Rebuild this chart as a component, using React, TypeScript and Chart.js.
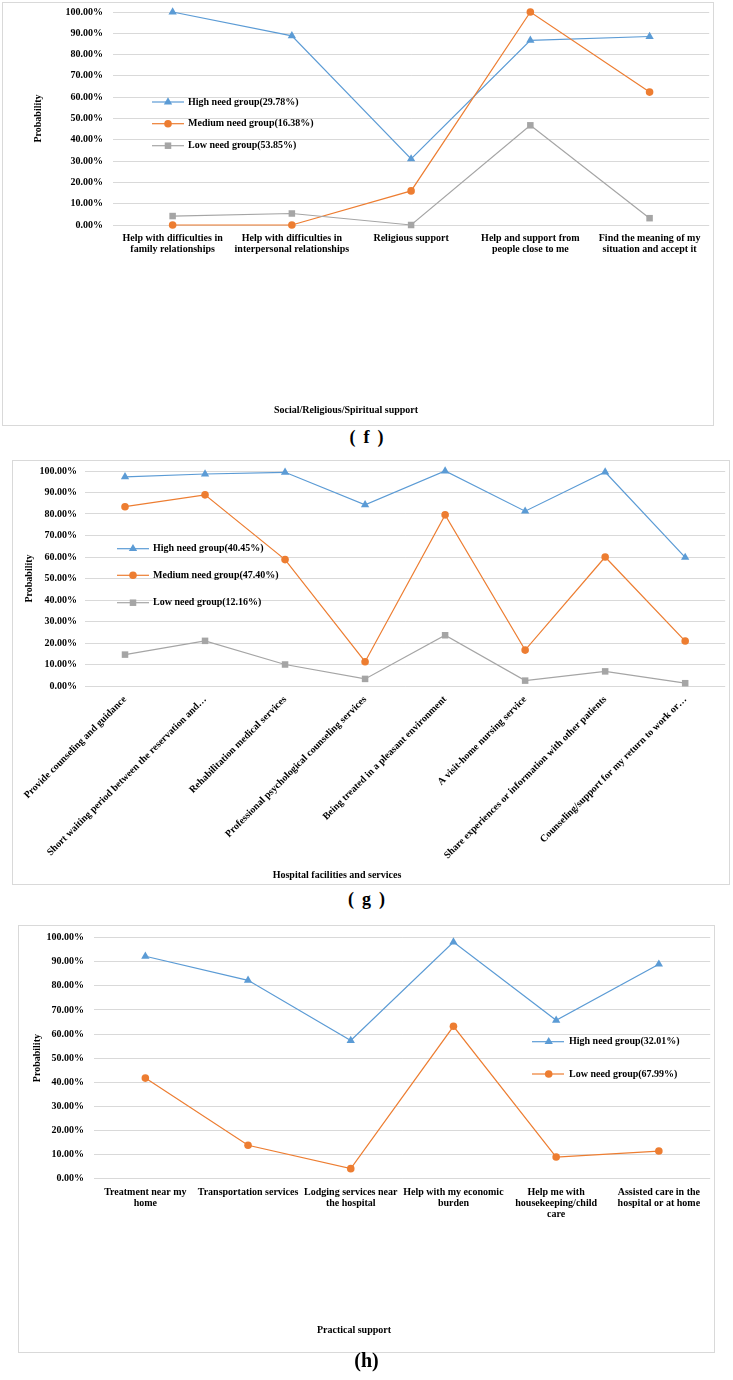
import React, { useEffect, useRef } from 'react';
import { Chart, registerables } from 'chart.js';

Chart.register(...registerables);

// ---------- DATA ----------
// (f) Social/Religious/Spiritual support
const fCategories: string[][] = [
  ['Help with difficulties in', 'family relationships'],
  ['Help with difficulties in', 'interpersonal relationships'],
  ['Religious support'],
  ['Help and support from', 'people close to me'],
  ['Find the meaning of my', 'situation and accept it'],
];
const fHigh = [100, 88.8, 31.0, 86.7, 88.5];
const fMedium = [0, 0, 16.0, 100, 62.4];
const fLow = [4.2, 5.4, 0, 46.8, 3.2];
const fLegend = ['High need group(29.78%)', 'Medium need group(16.38%)', 'Low need group(53.85%)'];

// (g) Hospital facilities and services
const gCategories: string[] = [
  'Provide counseling and guidance',
  'Short waiting period between the reservation and…',
  'Rehabilitation medical services',
  'Professional psychological counseling services',
  'Being treated in a pleasant environment',
  'A visit-home nursing service',
  'Share experiences or information with other patients',
  'Counseling/support for my return to work or…',
];
const gHigh = [97.3, 98.6, 99.4, 84.3, 100, 81.3, 99.5, 59.8];
const gMedium = [83.4, 88.9, 58.8, 11.3, 79.6, 16.7, 60.0, 20.9];
const gLow = [14.6, 21.0, 10.0, 3.3, 23.6, 2.5, 6.8, 1.3];
const gLegend = ['High need group(40.45%)', 'Medium need group(47.40%)', 'Low need group(12.16%)'];

// (h) Practical support
const hCategories: string[][] = [
  ['Treatment near my', 'home'],
  ['Transportation services'],
  ['Lodging services near', 'the hospital'],
  ['Help with my economic', 'burden'],
  ['Help me with', 'housekeeping/child', 'care'],
  ['Assisted care in the', 'hospital or at home'],
];
const hHigh = [92.3, 82.3, 57.3, 98.2, 65.7, 89.0];
const hLow = [41.7, 13.8, 4.1, 63.2, 8.9, 11.4];
const hLegend = ['High need group(32.01%)', 'Low need group(67.99%)'];

const yTitle = 'Probability';
const fXTitle = 'Social/Religious/Spiritual support';
const gXTitle = 'Hospital facilities and services';
const hXTitle = 'Practical support';

// ---------- STYLE ----------
const BLUE = '#5B9BD5';
const ORANGE = '#ED7D31';
const GRAY = '#A5A5A5';
const GRID = '#D9D9D9';
const FONT = '"Liberation Serif", "Times New Roman", serif';

type Series = { label: string; data: number[]; color: string; style: string; radius: number };

type PanelCfg = {
  left: number; top: number; width: number; height: number;
  labels: any[];
  series: Series[];
  yWidth: number; padTop: number; padRight: number; xHeight: number;
  yTitlePad: number; yTickPad: number; xTickPad: number; rotation: number;
  legendLine: [number, number]; legendMarkerX: number; legendTextX: number; legendY: number[];
  xTitle: string; xTitlePos: [number, number];
};

function drawMarker(ctx: CanvasRenderingContext2D, style: string, x: number, y: number, r: number, color: string) {
  ctx.save();
  ctx.fillStyle = color;
  ctx.beginPath();
  if (style === 'triangle') {
    let rad = 0;
    const step = (2 * Math.PI) / 3;
    ctx.moveTo(x + Math.sin(rad) * r, y - Math.cos(rad) * r);
    rad += step;
    ctx.lineTo(x + Math.sin(rad) * r, y - Math.cos(rad) * r);
    rad += step;
    ctx.lineTo(x + Math.sin(rad) * r, y - Math.cos(rad) * r);
    ctx.closePath();
  } else if (style === 'rect') {
    const s = Math.SQRT1_2 * r;
    ctx.rect(x - s, y - s, 2 * s, 2 * s);
  } else {
    ctx.arc(x, y, r, 0, Math.PI * 2);
  }
  ctx.fill();
  ctx.restore();
}

function makeOverlay(cfg: PanelCfg) {
  return {
    id: 'overlay',
    beforeDraw(chart: any) {
      const ctx = chart.ctx as CanvasRenderingContext2D;
      ctx.save();
      ctx.fillStyle = '#ffffff';
      ctx.fillRect(0, 0, chart.width, chart.height);
      ctx.strokeStyle = GRID;
      ctx.lineWidth = 1;
      ctx.strokeRect(0.5, 0.5, chart.width - 1, chart.height - 1);
      ctx.restore();
    },
    afterDraw(chart: any) {
      const ctx = chart.ctx as CanvasRenderingContext2D;
      ctx.save();
      cfg.series.forEach((s, i) => {
        const y = cfg.legendY[i];
        ctx.strokeStyle = s.color;
        ctx.lineWidth = 1.2;
        ctx.beginPath();
        ctx.moveTo(cfg.legendLine[0], y);
        ctx.lineTo(cfg.legendLine[1], y);
        ctx.stroke();
        drawMarker(ctx, s.style, cfg.legendMarkerX, y, s.radius, s.color);
        ctx.fillStyle = '#000';
        ctx.font = `bold 10px ${FONT}`;
        ctx.textAlign = 'left';
        ctx.textBaseline = 'middle';
        ctx.fillText(s.label, cfg.legendTextX, y);
      });
      ctx.fillStyle = '#000';
      ctx.font = `bold 10px ${FONT}`;
      ctx.textAlign = 'center';
      ctx.textBaseline = 'middle';
      ctx.fillText(cfg.xTitle, cfg.xTitlePos[0], cfg.xTitlePos[1]);
      ctx.restore();
    },
  };
}

function Panel({ cfg }: { cfg: PanelCfg }) {
  const ref = useRef<HTMLCanvasElement | null>(null);
  useEffect(() => {
    if (!ref.current) return;
    const tickFont = { family: FONT, size: 10, weight: 'bold' as const, lineHeight: 1.1 };
    const n = cfg.series.length;
    const chart = new Chart(ref.current, {
      type: 'line',
      data: {
        labels: cfg.labels,
        datasets: cfg.series.map((s, i) => ({
          label: s.label,
          data: s.data,
          borderColor: s.color,
          backgroundColor: s.color,
          borderWidth: 1.2,
          pointStyle: s.style as any,
          pointRadius: s.radius,
          pointBorderWidth: 0,
          pointBackgroundColor: s.color,
          tension: 0,
          fill: false,
          clip: false as any,
          order: n - i,
        })),
      },
      options: {
        animation: false,
        responsive: false,
        maintainAspectRatio: false,
        events: [],
        layout: { padding: { top: cfg.padTop, right: cfg.padRight, left: 0, bottom: 0 } },
        plugins: { legend: { display: false }, tooltip: { enabled: false }, title: { display: false } },
        scales: {
          x: {
            type: 'category',
            offset: true,
            grid: { display: false, drawTicks: false },
            border: { display: false },
            ticks: {
              font: tickFont,
              color: '#000',
              padding: cfg.xTickPad,
              autoSkip: false,
              maxRotation: cfg.rotation,
              minRotation: cfg.rotation,
            },
            afterFit: (s: any) => {
              s.height = cfg.xHeight;
              s.paddingLeft = 0;
              s.paddingRight = 0;
            },
          },
          y: {
            min: 0,
            max: 100,
            grid: { color: GRID, lineWidth: 1, drawTicks: false },
            border: { display: false },
            ticks: {
              stepSize: 10,
              font: tickFont,
              color: '#000',
              padding: cfg.yTickPad,
              callback: (v: any) => Number(v).toFixed(2) + '%',
            },
            title: {
              display: true,
              text: yTitle,
              color: '#000',
              font: { family: FONT, size: 10, weight: 'bold' as const, lineHeight: 1.2 },
              padding: { top: cfg.yTitlePad, bottom: 0 },
            },
            afterFit: (s: any) => {
              s.width = cfg.yWidth;
              s.paddingTop = 0;
              s.paddingBottom = 0;
            },
          },
        },
      },
      plugins: [makeOverlay(cfg)],
    });
    return () => chart.destroy();
  }, [cfg]);
  return (
    <canvas
      ref={ref}
      width={cfg.width}
      height={cfg.height}
      style={{ position: 'absolute', left: cfg.left, top: cfg.top, width: cfg.width, height: cfg.height }}
    />
  );
}

const TRI = 4.8;
const CIR = 3.8;
const SQR = 4.6;

const fCfg: PanelCfg = {
  left: 2, top: 2, width: 712, height: 424,
  labels: fCategories,
  series: [
    { label: fLegend[0], data: fHigh, color: BLUE, style: 'triangle', radius: TRI },
    { label: fLegend[1], data: fMedium, color: ORANGE, style: 'circle', radius: CIR },
    { label: fLegend[2], data: fLow, color: GRAY, style: 'rect', radius: SQR },
  ],
  yWidth: 111, padTop: 10, padRight: 2, xHeight: 201,
  yTitlePad: 30, yTickPad: 10, xTickPad: 7.5, rotation: 0,
  legendLine: [150, 182], legendMarkerX: 166, legendTextX: 186, legendY: [100, 121.7, 143.7],
  xTitle: fXTitle, xTitlePos: [344, 408],
};

const gCfg: PanelCfg = {
  left: 12, top: 460, width: 718, height: 425,
  labels: gCategories,
  series: [
    { label: gLegend[0], data: gHigh, color: BLUE, style: 'triangle', radius: TRI },
    { label: gLegend[1], data: gMedium, color: ORANGE, style: 'circle', radius: CIR },
    { label: gLegend[2], data: gLow, color: GRAY, style: 'rect', radius: SQR },
  ],
  yWidth: 73, padTop: 11, padRight: 2, xHeight: 199,
  yTitlePad: 11.5, yTickPad: 8, xTickPad: 8, rotation: 45,
  legendLine: [105, 137], legendMarkerX: 121, legendTextX: 141, legendY: [88.7, 115.3, 142.7],
  xTitle: gXTitle, xTitlePos: [325, 415],
};

const hCfg: PanelCfg = {
  left: 18, top: 925, width: 697, height: 428,
  labels: hCategories,
  series: [
    { label: hLegend[0], data: hHigh, color: BLUE, style: 'triangle', radius: TRI },
    { label: hLegend[1], data: hLow, color: ORANGE, style: 'circle', radius: CIR },
  ],
  yWidth: 76, padTop: 12.7, padRight: 3, xHeight: 174.5,
  yTitlePad: 13, yTickPad: 10, xTickPad: 8, rotation: 0,
  legendLine: [514, 546], legendMarkerX: 530.7, legendTextX: 551, legendY: [116.7, 149],
  xTitle: hXTitle, xTitlePos: [336, 405],
};

const captionStyle: React.CSSProperties = {
  position: 'absolute',
  left: 0,
  width: 733,
  textAlign: 'center',
  fontWeight: 'bold',
  color: '#000',
  lineHeight: '20px',
  height: 20,
  fontFamily: FONT,
};

export default function App() {
  return (
    <div style={{ position: 'absolute', left: 0, top: 0, width: 733, height: 1380, background: '#fff', overflow: 'hidden' }}>
      <Panel cfg={fCfg} />
      <div style={{ ...captionStyle, top: 427, fontSize: 18 }}>
        <span>(</span><span style={{ margin: '0 8px' }}>f</span><span>)</span>
      </div>
      <Panel cfg={gCfg} />
      <div style={{ ...captionStyle, top: 889, fontSize: 18 }}>
        <span>(</span><span style={{ margin: '0 8px' }}>g</span><span>)</span>
      </div>
      <Panel cfg={hCfg} />
      <div style={{ ...captionStyle, top: 1350, fontSize: 20 }}>(h)</div>
    </div>
  );
}
